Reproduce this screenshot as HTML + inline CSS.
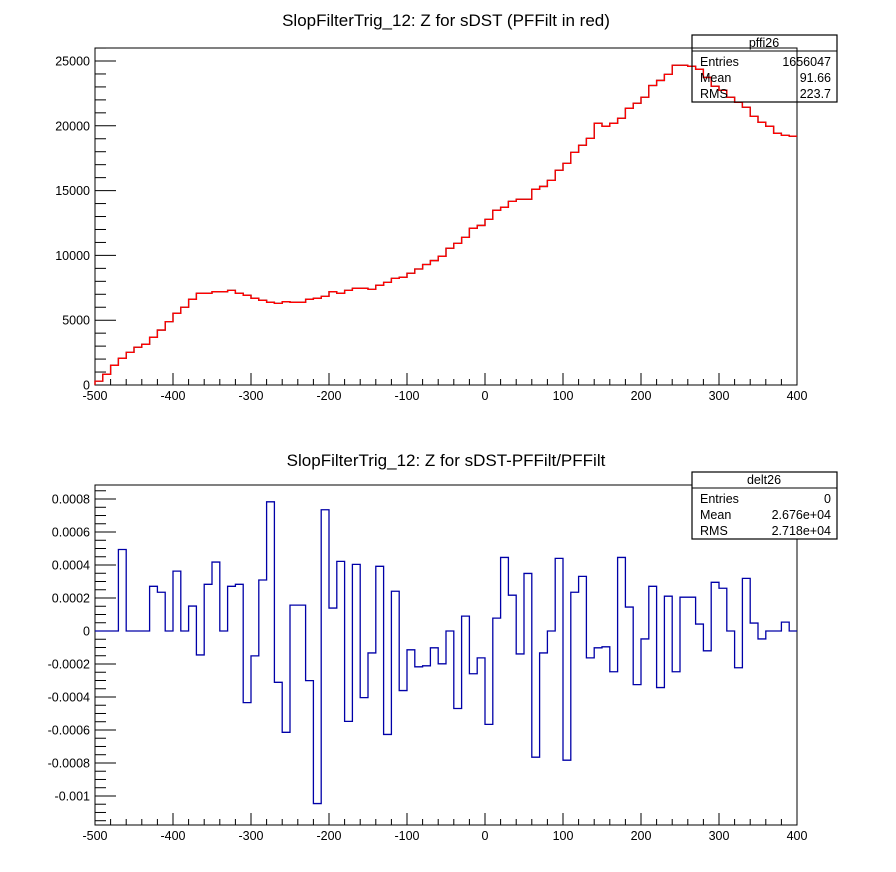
<!DOCTYPE html>
<html><head><meta charset="utf-8"><style>
body{margin:0;background:#fff}
svg{display:block;font-family:"Liberation Sans",Arial,sans-serif}
</style></head><body>
<svg id="c" width="896" height="872" viewBox="0 0 896 872">
<rect width="896" height="872" fill="#fff"/>
<text x="446" y="26" font-size="17" text-anchor="middle">SlopFilterTrig_12: Z for sDST (PFFilt in red)</text>
<text x="446" y="466" font-size="17" text-anchor="middle">SlopFilterTrig_12: Z for sDST-PFFilt/PFFilt</text>
<g id="top"></g>
<g id="bot"></g>
<g>
<rect x="692" y="35" width="145" height="67" fill="none" stroke="#000" stroke-width="1.2"/>
<line x1="692" y1="51" x2="837" y2="51" stroke="#000"/>
<text x="764" y="47" font-size="12.5" text-anchor="middle">pffi26</text>
<text x="700" y="66" font-size="12.5">Entries</text><text x="831" y="66" font-size="12.5" text-anchor="end">1656047</text>
<text x="700" y="82" font-size="12.5">Mean</text><text x="831" y="82" font-size="12.5" text-anchor="end">91.66</text>
<text x="700" y="98" font-size="12.5">RMS</text><text x="831" y="98" font-size="12.5" text-anchor="end">223.7</text>
</g>
<g>
<rect x="692" y="472" width="145" height="67" fill="#fff" stroke="#000" stroke-width="1.2"/>
<line x1="692" y1="488" x2="837" y2="488" stroke="#000"/>
<text x="764" y="484" font-size="12.5" text-anchor="middle">delt26</text>
<text x="700" y="503" font-size="12.5">Entries</text><text x="831" y="503" font-size="12.5" text-anchor="end">0</text>
<text x="700" y="519" font-size="12.5">Mean</text><text x="831" y="519" font-size="12.5" text-anchor="end">2.676e+04</text>
<text x="700" y="535" font-size="12.5">RMS</text><text x="831" y="535" font-size="12.5" text-anchor="end">2.718e+04</text>
</g>
</svg>
<script>
const topValues=[300,825,1520,2060,2520,2910,3140,3680,4240,4890,5530,6000,6610,7075,7075,7200,7200,7300,7075,6920,6690,6535,6380,6300,6430,6380,6380,6610,6690,6840,7200,7075,7300,7460,7460,7380,7690,7920,8230,8310,8620,8950,9300,9600,9930,10550,10930,11390,12090,12310,12780,13480,13710,14170,14330,14330,15100,15320,15790,16570,17100,17950,18500,19030,20190,19960,20190,20580,21350,21740,22200,23110,23500,23970,24670,24670,24590,24360,23730,23050,22740,22200,21810,21430,20730,20270,19960,19420,19260,19200];
const diffValues=[0,0,0,0.000494,0,0,0,0.000271,0.000235,0,0.000363,0,0.000151,-0.000145,0.000283,0.000418,0,0.000271,0.000283,-0.000434,-0.000151,0.000309,0.000783,-0.000311,-0.000614,0.000157,0.000157,-0.000301,-0.001046,0.000735,0.000139,0.000422,-0.000548,0.000404,-0.000404,-0.000133,0.000392,-0.000627,0.000241,-0.000361,-0.000114,-0.000217,-0.000211,-0.000102,-0.000199,0,-0.00047,0.00009,-0.000259,-0.000163,-0.000566,0.000078,0.000446,0.000217,-0.000139,0.000349,-0.000765,-0.000133,0,0.00044,-0.000783,0.000235,0.000331,-0.000163,-0.000102,-0.000096,-0.000247,0.000446,0.000145,-0.000325,-0.000048,0.000271,-0.000343,0.000211,-0.000247,0.000205,0.000205,0.000042,-0.00012,0.000295,0.000259,0,-0.000223,0.000319,0.000048,-0.000048,0,0,0.000054,0];
const xTicks=[-500,-400,-300,-200,-100,0,100,200,300,400];
const topYTicks=[0,5000,10000,15000,20000,25000];
const botYTicks=[-0.001,-0.0008,-0.0006,-0.0004,-0.0002,0,0.0002,0.0004,0.0006,0.0008];
const botYLabels=["-0.001","-0.0008","-0.0006","-0.0004","-0.0002","0","0.0002","0.0004","0.0006","0.0008"];
const XMIN=-500,XMAX=400,BINW=10;
const NS="http://www.w3.org/2000/svg";
function mk(p,t,a){const e=document.createElementNS(NS,t);for(const k in a)e.setAttribute(k,a[k]);p.appendChild(e);return e;}
function panel(g,L,R,T,B,ymin,ymax,ymaj,ydiv,ylabels,yticks,series,nm){
  const sx=v=>L+(v-XMIN)/(XMAX-XMIN)*(R-L);
  const sy=v=>B-(v-ymin)/(ymax-ymin)*(B-T);
  const fr=mk(g,'rect',{x:L,y:T,width:R-L,height:B-T,fill:'none',stroke:'#000','stroke-width':1});
  
  
  // x ticks
  for(let v=XMIN;v<=XMAX+1e-9;v+=20){
    const maj=Math.abs(v%100)<1e-9, x=sx(v);
    const t=mk(g,'line',{x1:x,x2:x,y1:B,y2:B-(maj?12:6),stroke:'#000'});
    
    
  }
  xTicks.forEach(v=>{const t=mk(g,'text',{x:sx(v),y:B+15,'font-size':12.5,'text-anchor':'middle'});t.textContent=v;
    
    });
  // y ticks
  const step=ymaj/ydiv;
  for(let k=Math.ceil(ymin/step);k*step<=ymax;k++){
    const v=k*step, maj=Math.abs(Math.round(k/ydiv)*ydiv-k)<1e-9, y=sy(v);
    const t=mk(g,'line',{x1:L,x2:L+(maj?21:11),y1:y,y2:y,stroke:'#000'});
    
    
  }
  yticks.forEach((v,i)=>{const t=mk(g,'text',{x:L-5,y:sy(v)+4.5,'font-size':12.5,'text-anchor':'end'});t.textContent=ylabels[i];
    
    });
  series.forEach(s=>{
    let d='M'+sx(XMIN)+','+sy(Math.max(ymin,0));
    s.vals.forEach((v,i)=>{const x0=sx(XMIN+i*BINW),x1=sx(XMIN+(i+1)*BINW),y=sy(v);d+=' L'+x0+','+y+' L'+x1+','+y;});
    const p=mk(g,'path',{d:d,fill:'none',stroke:s.color,'stroke-width':1.3});
    
    
  });
}
panel(document.getElementById('top'),95,797,48,385,0,26003,5000,5,topYTicks.map(String),topYTicks,
  [{vals:topValues,color:'#000',name:'sdst-histogram'},{vals:topValues,color:'#f00',name:'pffilt-histogram'}],'top');
panel(document.getElementById('bot'),95,797,485,825,-0.001176,0.000885,0.0002,4,botYLabels,botYTicks,
  [{vals:diffValues,color:'#0000a8',name:'difference-histogram'}],'bottom');
</script>
</body></html>
